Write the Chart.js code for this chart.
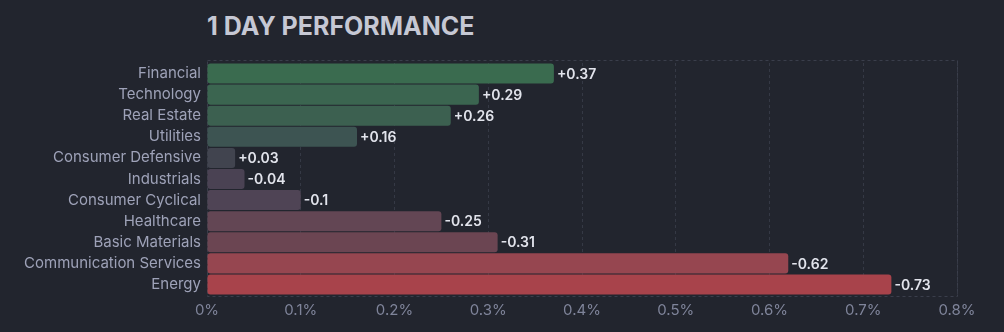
<!DOCTYPE html>
<html>
<head>
<meta charset="utf-8">
<script src="https://cdn.jsdelivr.net/npm/chart.js@4"></script>
<style>
  html, body { margin: 0; padding: 0; background: #22252e; }
  #wrap { position: relative; width: 1004px; height: 332px; }
  #title {
    position: absolute; left: 207px; top: 11px;
    font-family: Inter, sans-serif; font-weight: 700; font-size: 25px;
    color: #c6c8d4; margin: 0;
  }
  canvas { position: absolute; left: 0; top: 0; }
</style>
</head>
<body>
<div id="wrap">
  <h1 id="title">1 DAY PERFORMANCE</h1>
  <canvas id="perf-chart" width="1004" height="332"></canvas>
</div>
<script>
const sectors = ['Financial', 'Technology', 'Real Estate', 'Utilities', 'Consumer Defensive', 'Industrials',
  'Consumer Cyclical', 'Healthcare', 'Basic Materials', 'Communication Services', 'Energy'];
const changes = [0.37, 0.29, 0.26, 0.16, 0.03, -0.04, -0.1, -0.25, -0.31, -0.62, -0.73];
const barColors = ['#3a6b4f', '#3b6550', '#3c6050', '#3d5452', '#41444f', '#4a4253',
  '#4f4455', '#634654', '#6b4552', '#964650', '#a8434b'];

Chart.defaults.font.family = 'Inter, sans-serif';

// dashed frame round the plot area (a little outside it)
const frame = {
  id: 'frame',
  beforeDatasetsDraw(chart) {
    const a = chart.chartArea;
    const c = chart.ctx;
    c.save();
    c.strokeStyle = '#3a3e4b';
    c.lineWidth = 1;
    c.setLineDash([3, 3]);
    c.strokeRect(a.left + 0.5, a.top - 2.5, a.right - a.left, a.bottom - a.top + 4);
    c.restore();
  }
};

// value labels at the end of each bar
const valueLabels = {
  id: 'valueLabels',
  afterDatasetsDraw(chart) {
    const c = chart.ctx;
    const meta = chart.getDatasetMeta(0);
    c.save();
    c.font = '600 14px Inter, sans-serif';
    c.fillStyle = '#e2e4ec';
    c.textBaseline = 'middle';
    meta.data.forEach((bar, i) => {
      const v = changes[i];
      const txt = v > 0 ? '+' + v : String(v);
      c.fillText(txt, bar.x + 3, bar.y + 1);
    });
    c.restore();
  }
};

const ctx = document.getElementById('perf-chart').getContext('2d');
const perfChart = new Chart(ctx, {
  type: 'bar',
  data: {
    labels: sectors,
    datasets: [{
      data: changes.map(v => Math.abs(v)),
      backgroundColor: barColors,
      borderRadius: 3,
      borderSkipped: false,
      barPercentage: 0.95,
      categoryPercentage: 1
    }]
  },
  options: {
    indexAxis: 'y',
    responsive: false,
    animation: false,
    layout: { padding: { top: 63, right: 47, left: 0, bottom: 0 } },
    plugins: {
      legend: { display: false },
      tooltip: { enabled: false }
    },
    scales: {
      x: {
        min: 0,
        max: 0.8,
        ticks: {
          stepSize: 0.1,
          color: '#7f849a',
          font: { size: 15 },
          padding: 6,
          callback: v => Math.round(v * 10) / 10 + '%'
        },
        grid: { color: '#353945', drawTicks: false },
        border: { display: false },
        afterFit: s => { s.height = 37; }
      },
      y: {
        ticks: { color: '#9ea2b8', font: { size: 15 }, padding: 6 },
        grid: { display: false, drawTicks: false },
        border: { display: false },
        afterFit: s => { s.width = 207; }
      }
    }
  },
  plugins: [frame, valueLabels]
});
// x grid dashed
perfChart.options.scales.x.grid.borderDash = [3, 3];
perfChart.options.scales.x.border.dash = [3, 3];
perfChart.update();
</script>
</body>
</html>
